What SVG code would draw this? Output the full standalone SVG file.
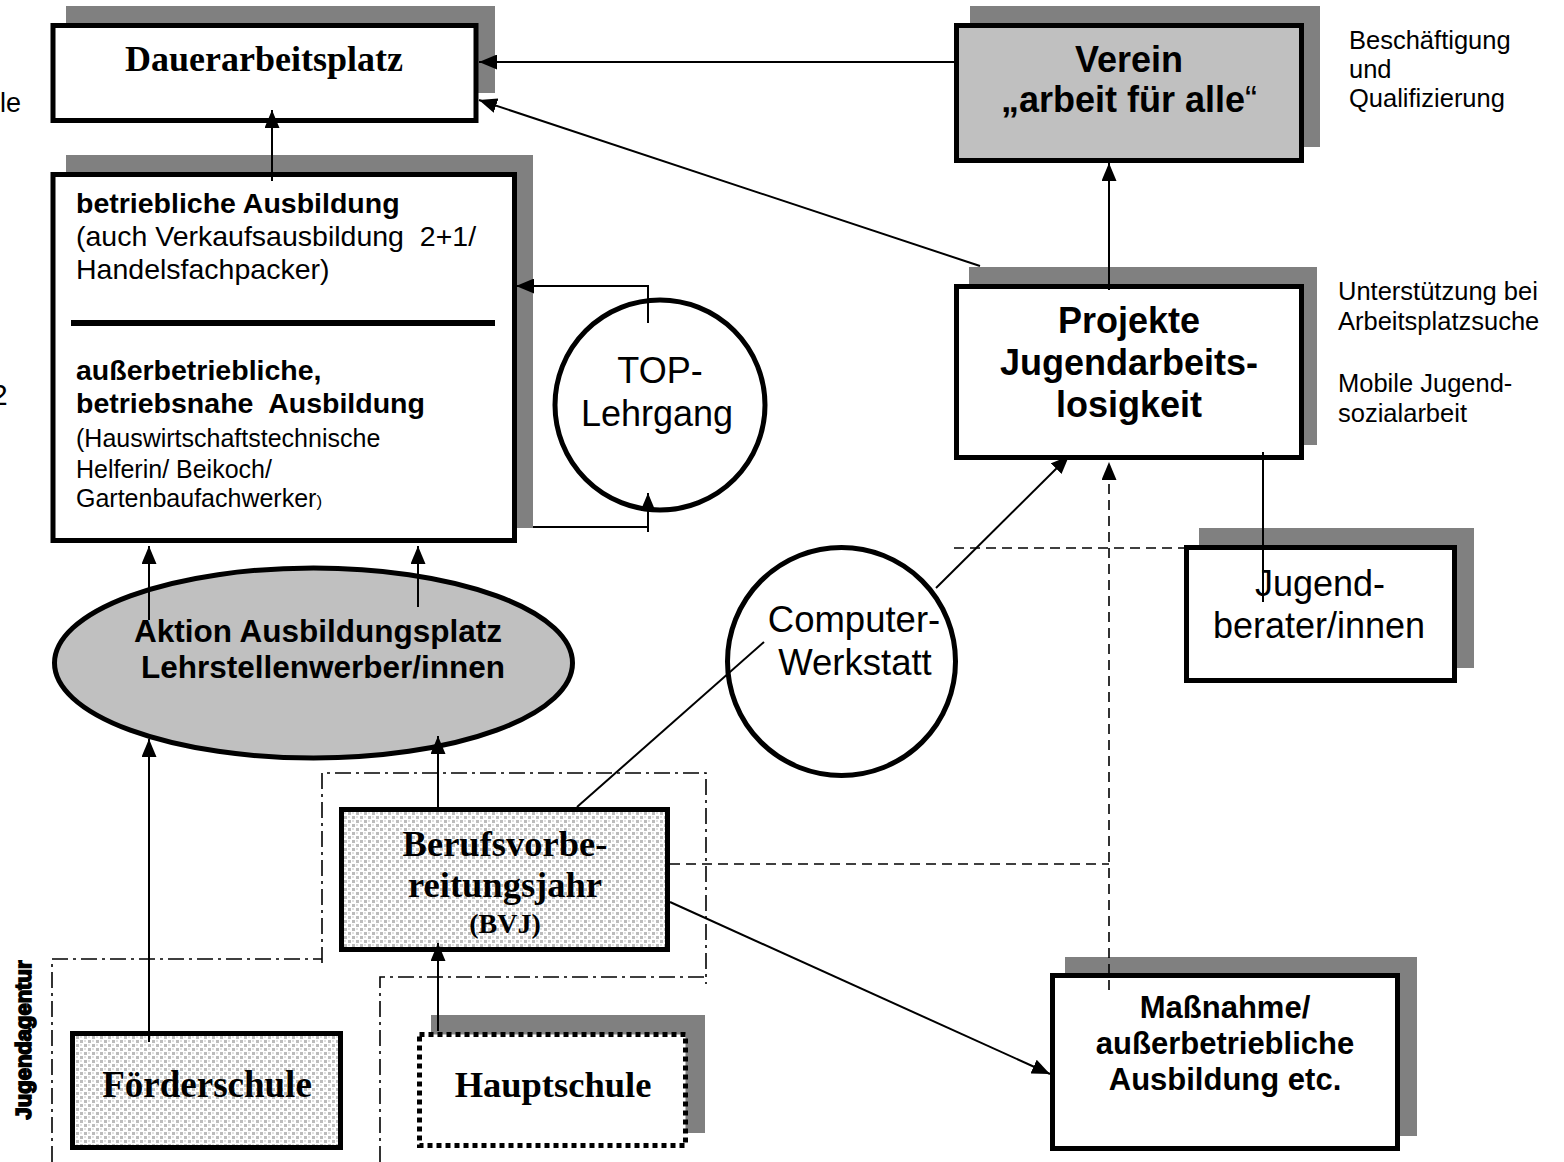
<svg xmlns="http://www.w3.org/2000/svg" width="1564" height="1162" viewBox="0 0 1564 1162">
<style>
.shadow{fill:#808080}
.box{fill:#fff;stroke:#000;stroke-width:5}
.grey{fill:#c0c0c0;stroke:#000;stroke-width:5}
.stip{fill:url(#stipple);stroke:#000;stroke-width:5}
.conn{stroke:#000;stroke-width:2;fill:none}
.dash{stroke:#000;stroke-width:1.6;fill:none;stroke-dasharray:10 6}
.dashdot{stroke:#000;stroke-width:1.6;fill:none;stroke-dasharray:16 5 3 5}
.sans{font-family:"Liberation Sans",Arial,sans-serif;fill:#000}
.serif{font-family:"Liberation Serif","Times New Roman",serif;font-weight:bold;fill:#000}
.b{font-weight:bold}
.mid{text-anchor:middle}
</style>
<defs>
<marker id="arr" viewBox="0 0 18 15" refX="18" refY="7.5" markerWidth="18" markerHeight="15" markerUnits="userSpaceOnUse" orient="auto">
<path d="M0,0 L18,7.5 L0,15 z" fill="#000"/>
</marker>
<pattern id="stipple" patternUnits="userSpaceOnUse" width="8" height="8">
<rect width="8" height="8" fill="#fff"/>
<rect x="0" y="0" width="3" height="3" fill="#bcbcbc"/>
<rect x="4" y="4" width="3" height="3" fill="#bcbcbc"/>
<rect x="4" y="0" width="2" height="2" fill="#e2e2e2"/>
<rect x="0" y="4" width="2" height="2" fill="#e2e2e2"/>
</pattern>
</defs>
<rect width="1564" height="1162" fill="#fff"/>

<!-- stray texts at left edge, cut off as in the reference -->
<text class="sans" x="0" y="112" font-size="27">le</text>
<text class="sans" x="-9" y="405" font-size="30">2</text>

<!-- dash-dot enclosures -->
<g id="enclosures">
<path class="dashdot" d="M322,963 V773 H706 V984"/>
<path class="dashdot" d="M52,1162 V959 H322"/>
<path class="dashdot" d="M380,1162 V977 H706"/>
</g>

<g id="n-dauerarbeitsplatz">
<rect class="shadow" x="66" y="6" width="429" height="87"/>
<rect class="box" x="53" y="25.5" width="423" height="95"/>
<text class="serif mid" x="264" y="71" font-size="36">Dauerarbeitsplatz</text>
</g>

<g id="n-ausbildung">
<rect class="shadow" x="66" y="155" width="467" height="373"/>
<rect class="box" x="53" y="174.5" width="461.5" height="366"/>
<text class="sans" x="76" y="213" font-size="28.5"><tspan class="b">betriebliche Ausbildung</tspan><tspan x="76" y="246" xml:space="preserve">(auch Verkaufsausbildung  2+1/</tspan><tspan x="76" y="279">Handelsfachpacker)</tspan></text>
<line x1="71" y1="323" x2="495" y2="323" stroke="#000" stroke-width="6"/>
<text class="sans b" x="76" y="380" font-size="28.5">außerbetriebliche,<tspan x="76" y="413" xml:space="preserve">betriebsnahe  Ausbildung</tspan></text>
<text class="sans" x="76" y="447" font-size="25">(Hauswirtschaftstechnische<tspan x="76" y="478">Helferin/ Beikoch/</tspan><tspan x="76" y="507">Gartenbaufachwerker<tspan font-size="17">)</tspan></tspan></text>
</g>

<g id="n-top">
<circle cx="660" cy="405" r="105" fill="#fff" stroke="#000" stroke-width="5"/>
<text class="sans mid" x="660" y="383" font-size="36">TOP-<tspan x="657" y="426">Lehrgang</tspan></text>
</g>

<g id="n-aktion">
<ellipse class="grey" cx="313.5" cy="663" rx="259" ry="95"/>
<text class="sans b mid" x="318" y="642" font-size="31.5">Aktion Ausbildungsplatz<tspan x="323" y="678">Lehrstellenwerber/innen</tspan></text>
</g>

<g id="n-computer">
<circle cx="841.5" cy="661.5" r="114" fill="#fff" stroke="#000" stroke-width="5"/>
<text class="sans mid" x="854" y="632" font-size="36.5">Computer-<tspan x="855" y="675">Werkstatt</tspan></text>
</g>

<g id="n-verein">
<rect class="shadow" x="970" y="6" width="350" height="141"/>
<rect class="grey" x="956.5" y="25.5" width="345" height="135"/>
<text class="sans b mid" x="1129" y="72" font-size="36">Verein<tspan x="1129" y="112">„arbeit für alle<tspan font-weight="normal">“</tspan></tspan></text>
<text class="sans" x="1349" y="49" font-size="25.5">Beschäftigung<tspan x="1349" y="78">und</tspan><tspan x="1349" y="107">Qualifizierung</tspan></text>
</g>

<g id="n-projekte">
<rect class="shadow" x="969" y="267" width="348" height="178"/>
<rect class="box" x="956.5" y="286.5" width="345" height="171"/>
<text class="sans b mid" x="1129" y="333" font-size="36">Projekte<tspan x="1129" y="375">Jugendarbeits-</tspan><tspan x="1129" y="417">losigkeit</tspan></text>
<text class="sans" x="1338" y="300" font-size="25.5">Unterstützung bei<tspan x="1338" y="330">Arbeitsplatzsuche</tspan><tspan x="1338" y="392">Mobile Jugend-</tspan><tspan x="1338" y="422">sozialarbeit</tspan></text>
</g>

<g id="n-jugendberater">
<rect class="shadow" x="1199" y="528" width="275" height="140"/>
<rect class="box" x="1186.5" y="547.5" width="268" height="133"/>
<text class="sans mid" x="1320" y="596" font-size="36">Jugend-<tspan x="1319" y="638">berater/innen</tspan></text>
</g>

<g id="n-bvj">
<rect class="stip" x="341.5" y="809.5" width="326" height="140"/>
<text class="serif mid" x="505" y="856" font-size="36.5">Berufsvorbe-<tspan x="505" y="897">reitungsjahr</tspan><tspan x="505" y="933" font-size="28">(BVJ)</tspan></text>
</g>

<g id="n-massnahme">
<rect class="shadow" x="1065" y="957" width="352" height="179"/>
<rect class="box" x="1052.5" y="975.5" width="345" height="173"/>
<text class="sans b mid" x="1225" y="1018" font-size="31">Maßnahme/<tspan x="1225" y="1054">außerbetriebliche</tspan><tspan x="1225" y="1090">Ausbildung etc.</tspan></text>
</g>

<g id="n-foerderschule">
<rect class="stip" x="72.5" y="1033.5" width="268" height="114"/>
<text class="serif mid" x="207" y="1097" font-size="37">Förderschule</text>
</g>

<g id="n-hauptschule">
<rect class="shadow" x="431" y="1015" width="274" height="118"/>
<rect x="419.5" y="1034.5" width="266" height="111" fill="#fff" stroke="#000" stroke-width="5" stroke-dasharray="5 4"/>
<text class="serif mid" x="553" y="1097" font-size="36.5">Hauptschule</text>
</g>

<g id="n-jugendagentur">
<text class="sans b mid" transform="translate(31,1040) rotate(-90)" x="0" y="0" font-size="22" stroke="#000" stroke-width="1.6">Jugendagentur</text>
</g>

<g id="connectors">
<line class="conn" x1="955" y1="62" x2="479" y2="62" marker-end="url(#arr)"/>
<line class="conn" x1="980" y1="266" x2="479" y2="100" marker-end="url(#arr)"/>
<line class="conn" x1="272" y1="181" x2="272" y2="110" marker-end="url(#arr)"/>
<path class="conn" d="M648,323 V286 H516" marker-end="url(#arr)"/>
<path class="conn" d="M533,527 H648"/>
<line class="conn" x1="648" y1="532" x2="648" y2="493" marker-end="url(#arr)"/>
<line class="conn" x1="149" y1="620" x2="149" y2="546" marker-end="url(#arr)"/>
<line class="conn" x1="418" y1="607" x2="418" y2="546" marker-end="url(#arr)"/>
<line class="conn" x1="149" y1="1042" x2="149" y2="739" marker-end="url(#arr)"/>
<line class="conn" x1="438" y1="807" x2="438" y2="736" marker-end="url(#arr)"/>
<line class="conn" x1="438" y1="1031" x2="438" y2="943" marker-end="url(#arr)"/>
<line class="conn" x1="577" y1="807" x2="764" y2="642"/>
<line class="conn" x1="936" y1="588" x2="1069" y2="456" marker-end="url(#arr)"/>
<line class="conn" x1="1109" y1="290" x2="1109" y2="163" marker-end="url(#arr)"/>
<line class="conn" x1="1263" y1="452" x2="1263" y2="602"/>
<line class="dash" x1="954" y1="548" x2="1186" y2="548"/>
<line class="dash" x1="1109" y1="990" x2="1109" y2="462" marker-end="url(#arr)"/>
<line class="dash" x1="670" y1="864" x2="1109" y2="864"/>
<line class="conn" x1="670" y1="902" x2="1050" y2="1074" marker-end="url(#arr)"/>
</g>
</svg>
